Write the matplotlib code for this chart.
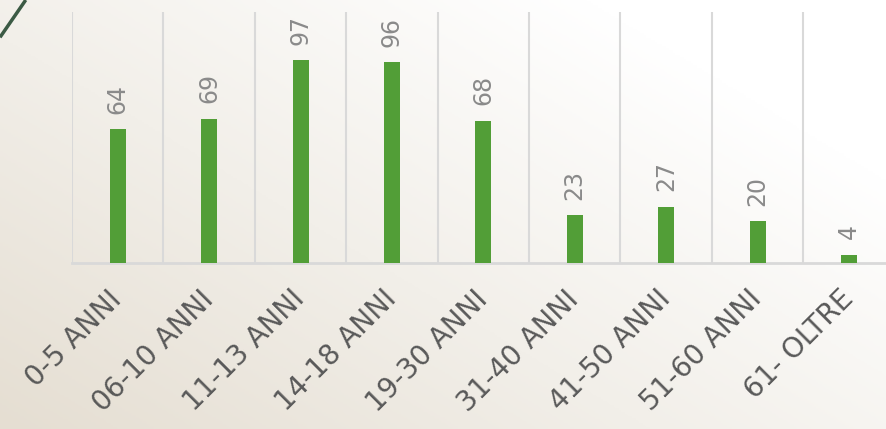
import numpy as np
import matplotlib.pyplot as plt
from matplotlib.colors import LinearSegmentedColormap

categories = ["0-5 ANNI", "06-10 ANNI", "11-13 ANNI", "14-18 ANNI", "19-30 ANNI",
              "31-40 ANNI", "41-50 ANNI", "51-60 ANNI", "61- OLTRE"]
values = [64, 69, 97, 96, 68, 23, 27, 20, 4]

BAR_COLOR = "#529e37"
GRID_COLOR = "#d9d9d9"


def main():
    fig = plt.figure(figsize=(8.87, 4.29), dpi=100)

    # background gradient: beige bottom-left -> white top-right
    bg = fig.add_axes([0, 0, 1, 1], zorder=0)
    yy, xx = np.mgrid[0:1:200j, 0:1:400j]
    t = np.clip((xx * 0.75 + yy * 0.6) / 1.1, 0, 1)
    cmap = LinearSegmentedColormap.from_list("bg", ["#e5ded2", "#f2efe9", "#ffffff"])
    bg.imshow(t, cmap=cmap, origin="lower", extent=[0, 1, 0, 1], aspect="auto")
    bg.plot([0, 0.029], [0.913, 1.0], color="#3b5a44", lw=2.5, solid_capstyle="butt")
    bg.set_xlim(0, 1)
    bg.set_ylim(0, 1)
    bg.axis("off")

    ax = fig.add_axes([0.0812, 0.387, 0.9274, 0.585], zorder=1)
    ax.patch.set_alpha(0)
    x = np.arange(len(categories))
    bars = ax.bar(x, values, width=0.175, color=BAR_COLOR, zorder=3)

    for rect, v in zip(bars, values):
        ax.annotate(str(v), (rect.get_x() + rect.get_width() / 2, rect.get_height()),
                    xytext=(0, 11), textcoords="offset points", rotation=90,
                    ha="center", va="bottom", fontsize=17, color="#8a8a8a")

    ax.set_xlim(-0.5, len(categories) - 0.5)
    ax.set_ylim(0, 120)
    ax.set_xticks(x)
    ax.set_xticklabels(categories, rotation=45, ha="right", va="center",
                       rotation_mode="anchor", fontsize=20, color="#595959")
    ax.tick_params(axis="x", length=0, pad=23)
    ax.set_yticks([])

    for b in np.arange(-0.5, len(categories), 1.0):
        ax.axvline(b, color=GRID_COLOR, lw=1.5, zorder=1)

    for s in ["top", "right", "left"]:
        ax.spines[s].set_visible(False)
    ax.spines["bottom"].set_color(GRID_COLOR)
    ax.spines["bottom"].set_linewidth(2)

    fig.savefig("out.png", dpi=100)


if __name__ == "__main__":
    main()
